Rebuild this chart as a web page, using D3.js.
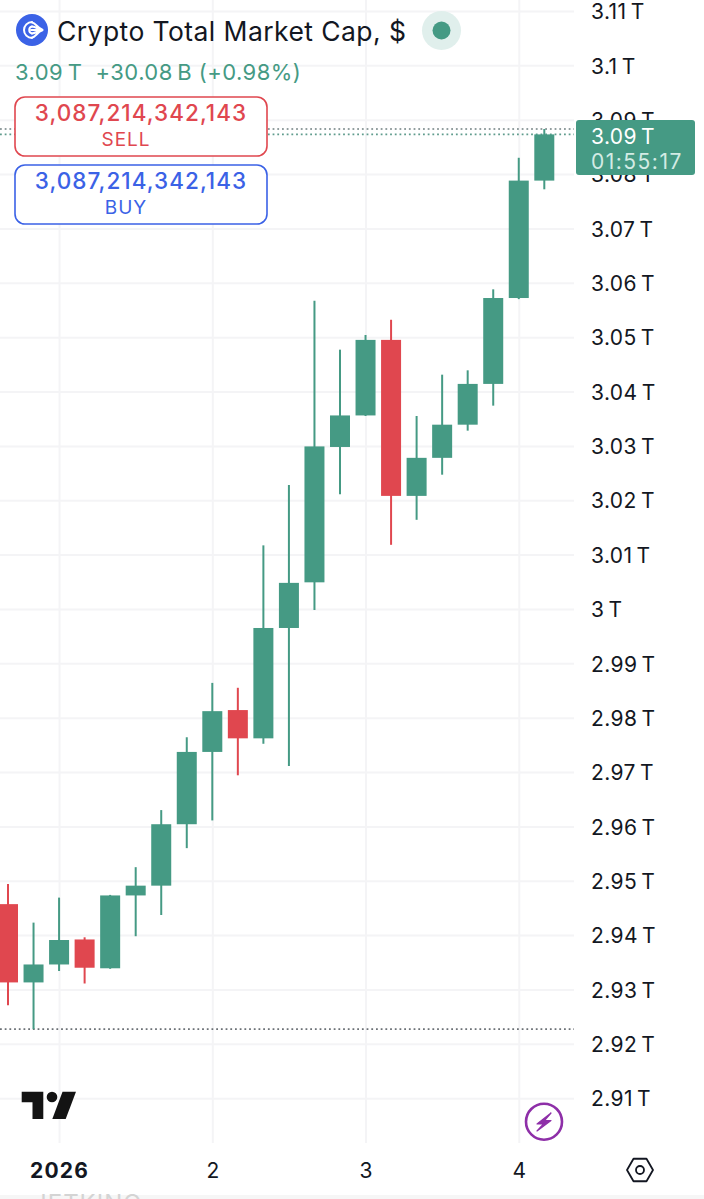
<!DOCTYPE html>
<html lang="en">
<head>
<meta charset="UTF-8">
<title>Crypto Total Market Cap</title>
<script src="https://d3js.org/d3.v7.min.js"></script>
<style>
  html, body { margin: 0; padding: 0; background: #fff; }
  svg { display: block; }
  text { font-family: Inter, "Noto Sans", sans-serif; fill: #131722; }
  .grid line { stroke: #f4f4f6; stroke-width: 2px; }
  .grid path { display: none; }
  .axis path { display: none; }
  .axis line { display: none; }
</style>
</head>
<body>
<script>
// 4h bars, values in trillions of dollars
const bars = ["12-31 16h", "12-31 20h", "01-01 00h", "01-01 04h", "01-01 08h", "01-01 12h", "01-01 16h", "01-01 20h",
  "01-02 00h", "01-02 04h", "01-02 08h", "01-02 12h", "01-02 16h", "01-02 20h",
  "01-03 00h", "01-03 04h", "01-03 08h", "01-03 12h", "01-03 16h", "01-03 20h", "01-04 00h", "01-04 04h"];
const opens = [2.9457, 2.9313, 2.9346, 2.9392, 2.9339, 2.9473, 2.9491, 2.9604, 2.9737, 2.9814, 2.9762,
  2.9965, 3.0049, 3.0298, 3.0356, 3.0495, 3.0208, 3.0278, 3.0339, 3.0414, 3.0572, 3.0788];
const highs = [2.9494, 2.9423, 2.9469, 2.9396, 2.9474, 2.9525, 2.9630, 2.9764, 2.9864, 2.9855, 3.0117,
  3.0228, 3.0567, 3.0477, 3.0504, 3.0532, 3.0355, 3.0431, 3.0439, 3.0588, 3.0830, 3.0883];
const lows = [2.9271, 2.9227, 2.9334, 2.9311, 2.9338, 2.9398, 2.9437, 2.9560, 2.9611, 2.9694, 2.9752,
  2.9711, 2.9998, 3.0211, 3.0355, 3.0118, 3.0164, 3.0247, 3.0328, 3.0374, 3.0570, 3.0772];
const closes = [2.9313, 2.9346, 2.9391, 2.9340, 2.9473, 2.9491, 2.9604, 2.9737, 2.9812, 2.9762, 2.9965,
  3.0048, 3.0299, 3.0356, 3.0495, 3.0208, 3.0278, 3.0339, 3.0414, 3.0572, 3.0788, 3.0873];

const priceTicks = [3.11, 3.1, 3.09, 3.08, 3.07, 3.06, 3.05, 3.04, 3.03, 3.02, 3.01, 3,
  2.99, 2.98, 2.97, 2.96, 2.95, 2.94, 2.93, 2.92, 2.91];
const dayTicks = ["01-01 00h", "01-02 00h", "01-03 00h", "01-04 00h"];
const dayLabels = ["2026", "2", "3", "4"];

const lastPrice = 3.0873;
const lastPriceAlt = 3.0883;
const sessionLow = 2.9227;

const width = 704, height = 1199;
const plotRight = 574, plotBottom = 1143;
const green = "#459a84", red = "#e0474f", blue = "#3b62e6";

const svg = d3.select("body").append("svg").attr("width", width).attr("height", height);

const x = d3.scalePoint().domain(bars).range([8, 544.3]);
const y = d3.scaleLinear().domain([2.91, 3.11]).range([1098.2, 11]);

// grid
svg.append("g").attr("class", "grid")
  .call(d3.axisLeft(y).tickValues(priceTicks).tickSize(-plotRight).tickFormat(""));
svg.append("g").attr("class", "grid")
  .attr("transform", `translate(0,${plotBottom})`)
  .call(d3.axisBottom(x).tickValues(dayTicks).tickSize(-plotBottom).tickFormat(""));

// price lines
function dotted(value, color) {
  svg.append("line").attr("x1", 0).attr("x2", plotRight)
    .attr("y1", y(value)).attr("y2", y(value))
    .attr("stroke", color).attr("stroke-width", 1.6).attr("stroke-dasharray", "1.8 2.9");
}
dotted(lastPrice, "#5f9c8d");
dotted(lastPriceAlt, "#6f7f80");
dotted(sessionLow, "#6b7075");

// candles
const candles = svg.append("g").selectAll("g").data(bars).join("g")
  .attr("fill", (d, i) => closes[i] >= opens[i] ? green : red)
  .attr("stroke", (d, i) => closes[i] >= opens[i] ? green : red);
candles.append("line")
  .attr("x1", d => x(d)).attr("x2", d => x(d))
  .attr("y1", (d, i) => y(highs[i])).attr("y2", (d, i) => y(lows[i]))
  .attr("stroke-width", 2);
candles.append("rect")
  .attr("x", d => x(d) - 10).attr("width", 20)
  .attr("y", (d, i) => y(Math.max(opens[i], closes[i])))
  .attr("height", (d, i) => Math.abs(y(opens[i]) - y(closes[i])))
  .attr("stroke", "none");

// price axis
const fmtPrice = d => `${d}\u2009T`;
const yAxis = svg.append("g").attr("class", "axis")
  .attr("transform", "translate(591,1)")
  .call(d3.axisRight(y).tickValues(priceTicks).tickSize(0).tickPadding(0).tickFormat(fmtPrice));
yAxis.selectAll("text").attr("font-size", 21).attr("letter-spacing", 0.4)
  .style("font-family", "Inter, sans-serif").attr("fill", "#131722");

// time axis
const xAxis = svg.append("g").attr("class", "axis")
  .attr("transform", "translate(0,1163)")
  .call(d3.axisBottom(x).tickValues(dayTicks).tickSize(0).tickPadding(0)
    .tickFormat((d, i) => dayLabels[i]));
xAxis.selectAll("text").attr("font-size", 21).attr("fill", "#131722")
  .attr("font-weight", (d, i) => i === 0 ? 700 : 400)
  .attr("letter-spacing", (d, i) => i === 0 ? 1.2 : 0);

// last price tag
svg.append("rect").attr("x", 576).attr("y", 120).attr("width", 119).attr("height", 55)
  .attr("rx", 3).attr("fill", green);
svg.append("text").attr("x", 591).attr("y", 144).attr("font-size", 21).attr("letter-spacing", 0.4)
  .style("fill", "#fff").text("3.09\u2009T");
svg.append("text").attr("x", 591).attr("y", 169).attr("font-size", 21).attr("letter-spacing", 1.5)
  .style("fill", "#d3ebe4").text("01:55:17");

// header
svg.append("circle").attr("cx", 32).attr("cy", 30).attr("r", 16).attr("fill", blue);
const logo = svg.append("g").attr("fill", "none").attr("stroke", "#fff").attr("stroke-width", 2).attr("stroke-linecap", "round");
logo.append("path").attr("d", "M32 22 A8 8 0 1 0 32 38");
logo.append("path").attr("d", "M32 26.5 A3.6 3.6 0 0 0 32 33.5");
logo.append("path").attr("d", "M32 22.5 C36 23 37 28 42.5 29.6 M32 26.6 C36 27 38 29 42.5 30 M31 30 H42.5 M32 33.4 C36 33 38 31 42.5 30 M32 37.5 C36 37 37 32 42.5 30.4");

svg.append("text").attr("x", 57).attr("y", 41).attr("font-size", 26.5).attr("letter-spacing", 0.42)
  .text("Crypto Total Market Cap, $");
svg.append("circle").attr("cx", 441.5).attr("cy", 30.5).attr("r", 19.5).attr("fill", "#e0efec");
svg.append("circle").attr("cx", 441.5).attr("cy", 30.5).attr("r", 9).attr("fill", green);
svg.append("text").attr("x", 15).attr("y", 80).attr("font-size", 22).attr("letter-spacing", 0.45).style("fill", green)
  .attr("xml:space", "preserve").text("3.09\u2009T  +30.08\u2009B (+0.98%)");

// sell / buy boxes
function orderBox(top, color, label) {
  svg.append("rect").attr("x", 15).attr("y", top).attr("width", 252).attr("height", 59)
    .attr("rx", 10).attr("fill", "#fff").attr("stroke", color).attr("stroke-width", 1.6);
  svg.append("text").attr("x", 141).attr("y", top + 24).attr("text-anchor", "middle")
    .attr("font-size", 22.5).attr("font-weight", 500).attr("letter-spacing", 1.05)
    .style("fill", color).text("3,087,214,342,143");
  svg.append("text").attr("x", 126).attr("y", top + 49).attr("text-anchor", "middle")
    .attr("font-size", 19).attr("letter-spacing", 1).style("fill", color).text(label);
}
orderBox(97, red, "SELL");
orderBox(165, blue, "BUY");

// tradingview mark
const tv = svg.append("g").attr("fill", "#131313");
tv.append("path").attr("d", "M21.7 1091.7H43.3V1119H32.5V1102.2H21.7Z");
tv.append("circle").attr("cx", 52).attr("cy", 1097).attr("r", 5.3);
tv.append("path").attr("d", "M62.5 1091.7H76L65.7 1119H52.3Z");

// bolt button
svg.append("circle").attr("cx", 544).attr("cy", 1121.7).attr("r", 18)
  .attr("fill", "#fff").attr("stroke", "#8e2fa8").attr("stroke-width", 2.6);
svg.append("path").attr("d", "M551 1113L537 1124H543.5L537 1131L551 1120.5H544.5Z")
  .attr("fill", "#8e2fa8").attr("stroke", "#8e2fa8").attr("stroke-width", 1.2).attr("stroke-linejoin", "round");

// settings hexagon
const hexR = 13;
svg.append("path")
  .attr("d", d3.line()(d3.range(6).map(k => [640 + hexR * Math.cos(k * Math.PI / 3), 1170 + hexR * Math.sin(k * Math.PI / 3)])) + "Z")
  .attr("fill", "none").attr("stroke", "#131722").attr("stroke-width", 1.8).attr("stroke-linejoin", "round");
svg.append("circle").attr("cx", 640).attr("cy", 1170).attr("r", 4).attr("fill", "none")
  .attr("stroke", "#131722").attr("stroke-width", 1.8);

// bottom band and the cut off watermark
svg.append("rect").attr("x", 0).attr("y", 1195).attr("width", width).attr("height", 4).attr("fill", "#f6f6f6");
svg.append("clipPath").attr("id", "band").append("rect").attr("x", 0).attr("y", 1194).attr("width", width).attr("height", 5);
svg.append("text").attr("x", 33).attr("y", 1212).attr("font-size", 24).attr("letter-spacing", 1)
  .attr("clip-path", "url(#band)").style("fill", "#d4d4d4").text("JETKING");
</script>
</body>
</html>
